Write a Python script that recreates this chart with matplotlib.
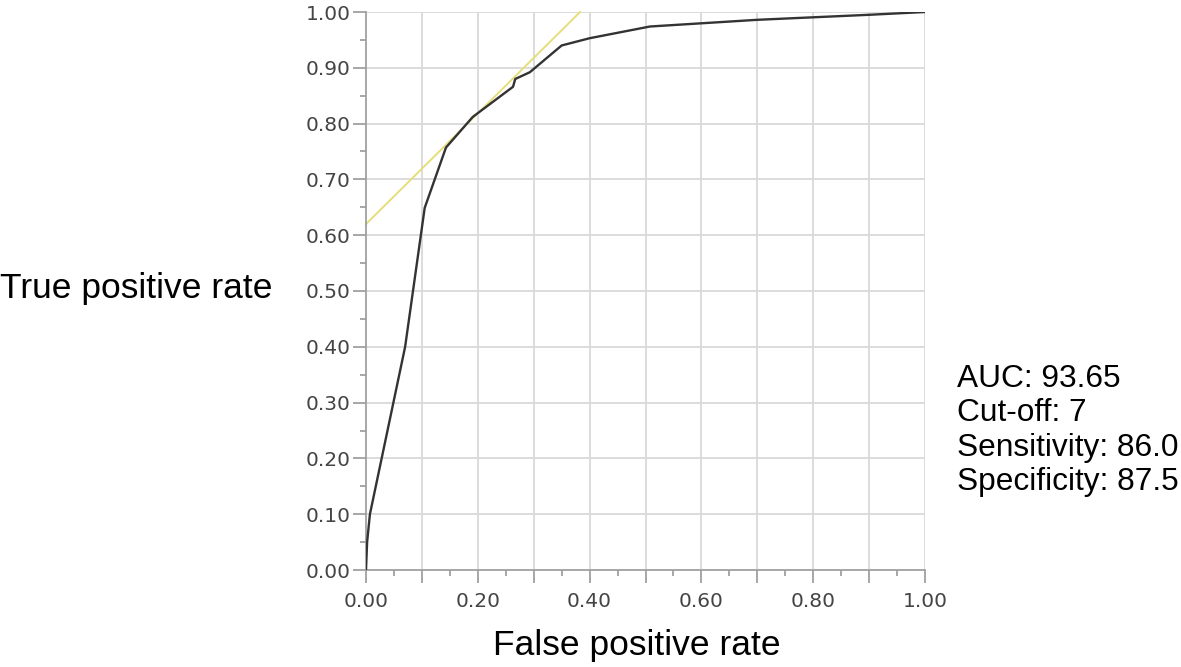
import matplotlib
matplotlib.use("Agg")
import matplotlib.pyplot as plt
from matplotlib.ticker import FixedLocator

# ROC curve points
fpr = [0.0, 0.002, 0.007, 0.07, 0.105, 0.143, 0.191, 0.263, 0.267, 0.293, 0.35, 0.40, 0.508, 0.70, 0.90, 1.0]
tpr = [0.0, 0.05, 0.10, 0.40, 0.649, 0.757, 0.812, 0.866, 0.88, 0.892, 0.94, 0.953, 0.974, 0.986, 0.995, 1.0]

# Tangent (cut-off) line
tan_x = [0.0, 0.383]
tan_y = [0.62, 1.0]

x_ticks = [0.0, 0.2, 0.4, 0.6, 0.8, 1.0]
y_ticks = [0.0, 0.1, 0.2, 0.3, 0.4, 0.5, 0.6, 0.7, 0.8, 0.9, 1.0]

stats = ["AUC: 93.65", "Cut-off: 7", "Sensitivity: 86.0", "Specificity: 87.5"]

W, H = 1181, 667
fig = plt.figure(figsize=(W / 100, H / 100), dpi=100)
ax = fig.add_axes([366 / W, 1 - 570 / H, (925 - 366) / W, (570 - 12) / H])

ax.set_xlim(0, 1)
ax.set_ylim(0, 1)

grid_c = "#d9d9d9"
for i in range(1, 11):
    ax.axvline(0.1 * i, color=grid_c, lw=1.3, zorder=0)
    ax.axhline(0.1 * i, color=grid_c, lw=1.3, zorder=0)

ax.plot(tan_x, tan_y, color="#e6de7a", lw=1.4, zorder=2, clip_on=False)
ax.plot(fpr, tpr, color="#333333", lw=1.7, zorder=3)

for s in ["top", "right"]:
    ax.spines[s].set_visible(False)
for s in ["left", "bottom"]:
    ax.spines[s].set_color("#a0a0a0")
    ax.spines[s].set_linewidth(1.3)

ax.xaxis.set_major_locator(FixedLocator([0.1 * i for i in range(11)]))
ax.xaxis.set_minor_locator(FixedLocator([0.05 + 0.1 * i for i in range(10)]))
ax.set_xticklabels([f"{0.1*i:.2f}" if i % 2 == 0 else "" for i in range(11)])
ax.yaxis.set_major_locator(FixedLocator(y_ticks))
ax.yaxis.set_minor_locator(FixedLocator([0.05 + 0.1 * i for i in range(10)]))
ax.set_yticklabels([f"{v:.2f}" for v in y_ticks])

ax.tick_params(which="major", length=9.5, width=1.3, color="#a0a0a0",
               labelsize=14.5, labelcolor="#444444")
ax.tick_params(axis="x", which="major", pad=6)
ax.tick_params(axis="y", which="major", pad=1.5)
ax.tick_params(which="minor", length=4.5, width=1.3, color="#a0a0a0")
for lab in ax.get_xticklabels() + ax.get_yticklabels():
    lab.set_family("DejaVu Sans")

fig.text(0.0, 1 - 298 / H, "True positive rate", fontsize=25.5,
         family="Liberation Sans", va="baseline", ha="left")
fig.text(637 / W, 1 - 655 / H, "False positive rate", fontsize=25.5,
         family="Liberation Sans", va="baseline", ha="center")

for i, s in enumerate(stats):
    fig.text(957 / W, 1 - (387 + 34.3 * i) / H, s, fontsize=22.8,
             family="Liberation Sans", va="baseline", ha="left")

fig.savefig("out.png", dpi=100)
